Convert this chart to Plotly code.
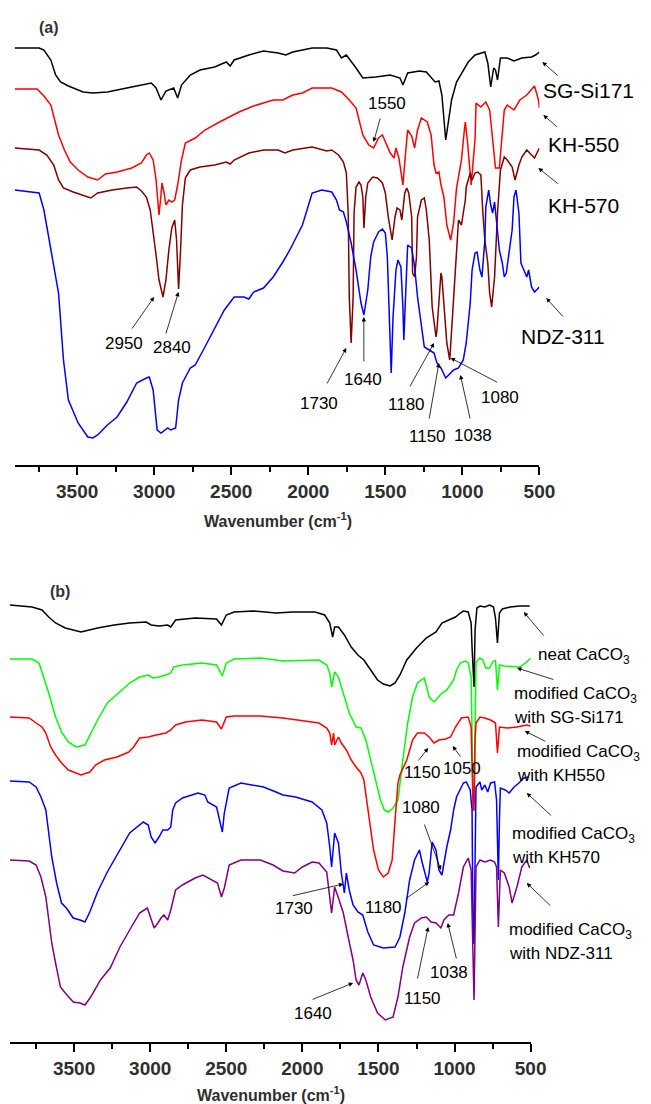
import plotly.graph_objects as go

W, H = 651, 1104
FONT = "Liberation Sans, Arial, sans-serif"

# ---------------- Panel (a): neat coupling agents (wavenumber cm-1, transmittance a.u. with offsets)
A_SGSI171_WN = [3906,3747,3716,3671,3640,3608,3557,3462,3399,3304,3178,3083,3019,2988,2956,2924,2874,2848,2823,2766,
                2703,2608,2532,2507,2481,2386,2291,2196,2146,2101,1975,1880,1817,1785,1753,1690,1646,1563,1468,1405,
                1386,1355,1279,1234,1203,1177,1152,1133,1108,1089,1070,1038,1006,962,918,880,854,835,816,797,
                785,772,753,709,665,614,551,525,500]
A_SGSI171_T = [417,417,415,405,390,383,379,373,372,373,377,380,382,377,365,374,377,367,380,390,
               395,398,403,399,405,410,414,412,410,413,417,417,415,407,410,397,387,388,390,387,
               380,392,394,393,387,383,384,370,325,345,365,383,392,403,410,412,413,402,378,397,
               395,385,407,407,404,407,408,410,413]

A_KH550_WN = [3906,3760,3716,3671,3646,3621,3583,3545,3494,3431,3367,3317,3241,3146,3083,3051,3032,3007,2988,2975,
              2969,2956,2950,2937,2924,2905,2886,2867,2848,2823,2798,2734,2671,2576,2513,2450,2355,2228,2165,2101,
              2038,1975,1848,1785,1734,1690,1646,1608,1576,1544,1519,1494,1468,1443,1431,1412,1399,1386,1367,1355,
              1329,1310,1291,1266,1228,1203,1184,1171,1152,1139,1120,1101,1076,1057,1038,1006,987,981,968,943,
              918,911,880,848,823,804,785,760,728,709,665,627,582,532,506,500]
A_KH550_T = [376,376,369,360,345,330,315,303,295,288,285,291,293,297,302,310,312,305,285,260,
             250,270,282,273,260,265,263,265,280,305,322,327,335,343,348,353,359,365,365,370,
             372,377,377,373,365,357,330,320,317,327,330,322,312,307,317,307,295,280,315,335,
             329,317,335,347,343,330,300,292,293,280,268,240,225,242,277,305,335,343,325,280,
             325,362,358,363,355,322,297,297,355,360,355,365,370,379,365,357]

A_KH570_WN = [3906,3747,3697,3652,3621,3589,3526,3443,3412,3367,3273,3178,3114,3083,3051,3026,3007,2988,2969,2943,
              2924,2905,2886,2867,2855,2842,2829,2817,2798,2766,2703,2608,2532,2507,2481,2386,2291,2196,2152,2101,
              1975,1880,1848,1804,1772,1753,1741,1734,1722,1709,1703,1690,1671,1658,1646,1639,1627,1614,1582,1551,
              1519,1500,1481,1456,1437,1424,1405,1393,1374,1361,1348,1329,1323,1310,1298,1291,1266,1247,1234,1215,
              1196,1171,1165,1139,1133,1120,1101,1082,1070,1044,1025,1006,994,981,975,949,937,918,899,880,
              867,854,835,823,810,791,772,753,728,709,677,658,633,614,582,551,532,500]
A_KH570_T = [317,315,310,300,285,277,273,269,267,272,275,277,278,274,268,255,235,210,185,168,
             185,215,237,245,225,176,215,260,287,295,298,300,303,301,305,312,315,315,312,315,
             318,314,315,310,303,292,252,168,122,168,252,278,283,280,268,237,268,282,288,287,
             282,272,248,225,248,257,255,245,272,277,272,248,192,188,208,248,265,267,255,225,
             158,128,135,192,188,158,122,105,135,195,245,240,252,265,278,292,285,292,293,290,
             252,225,202,172,158,188,252,295,308,305,298,285,300,308,315,310,307,317]

A_NDZ311_WN = [3906,3747,3716,3671,3621,3589,3557,3494,3431,3399,3367,3304,3241,3178,3114,3051,3032,3007,2981,2956,
               2912,2893,2861,2842,2817,2766,2734,2671,2545,2481,2418,2386,2355,2291,2228,2165,2120,2038,1975,1912,
               1848,1817,1798,1772,1753,1722,1690,1658,1639,1614,1595,1576,1544,1519,1500,1487,1475,1462,1450,1431,
               1418,1399,1386,1380,1367,1355,1329,1310,1291,1266,1247,1215,1184,1165,1139,1108,1089,1057,1025,994,
               975,949,937,918,905,886,873,854,848,829,816,804,791,779,760,741,728,715,696,677,
               665,652,633,620,601,582,570,551,532,500]
A_NDZ311_T = [275,272,255,215,172,105,65,42,28,27,30,40,48,63,82,87,88,75,35,32,
              37,35,37,65,82,97,100,118,155,168,168,166,173,177,188,203,215,240,272,275,
              273,265,255,253,243,222,195,162,150,175,208,223,233,236,232,208,148,92,148,195,
              205,198,158,125,175,220,217,198,168,138,118,115,112,102,97,87,90,95,97,105,
              122,162,195,212,213,195,188,225,258,275,260,252,263,242,215,202,188,192,215,235,
              268,275,252,202,195,188,195,178,173,178]

# ---------------- Panel (b): CaCO3 samples
B_NEAT_WN = [3923,3776,3711,3667,3622,3558,3455,3346,3237,3135,3026,2994,2942,2885,2865,2833,2705,2564,2532,2500,
             2449,2321,2173,2064,1917,1853,1820,1801,1788,1763,1724,1679,1635,1596,1551,1506,1468,1423,1391,1359,
             1314,1250,1186,1122,1083,1038,994,962,942,910,891,885,872,865,853,833,801,769,744,731,
             718,705,686,635,571,506]
B_NEAT_T = [437,435,432,425,419,414,410,414,417,419,420,417,416,417,415,422,424,423,417,427,
            430,431,429,430,430,427,419,405,415,415,407,395,387,382,372,362,358,356,359,367,
            382,394,404,410,419,422,425,429,431,430,419,395,355,412,434,436,435,437,435,424,
            399,429,433,435,436,436]

B_SGSI171_WN = [3923,3776,3731,3711,3667,3622,3583,3538,3487,3429,3391,3346,3282,3199,3135,3070,3013,2981,2942,2897,
                2865,2846,2788,2660,2564,2526,2500,2449,2276,2128,1955,1891,1840,1820,1808,1788,1763,1731,1692,1647,
                1615,1583,1551,1506,1487,1462,1436,1404,1372,1340,1308,1276,1244,1199,1167,1135,1103,1083,1051,1006,
                987,962,929,910,891,878,872,865,859,833,814,795,769,750,731,718,705,673,609,571,
                526,500]
B_SGSI171_T = [383,383,379,370,349,325,310,300,295,297,309,322,339,350,359,365,367,364,365,367,
               369,375,377,379,377,366,379,383,384,381,382,382,377,369,355,370,365,349,329,315,
               314,302,282,255,242,232,230,234,242,282,319,345,359,364,345,340,345,349,352,362,
               372,379,381,379,365,242,237,322,380,384,382,374,374,380,382,352,377,376,375,375,
               380,384]

B_KH550_WN = [3923,3795,3750,3711,3686,3654,3622,3583,3538,3494,3455,3397,3359,3301,3218,3141,3109,3070,3013,2961,
              2897,2865,2833,2769,2660,2564,2532,2500,2449,2276,2128,1891,1840,1820,1808,1795,1788,1763,1744,1711,
              1679,1647,1615,1596,1564,1532,1500,1468,1436,1410,1391,1372,1359,1314,1276,1244,1199,1167,1135,1103,
              1058,1026,994,955,910,891,878,872,865,859,833,801,763,731,718,705,654,590,526,500]
B_KH550_T = [325,324,319,315,309,295,287,279,272,269,267,270,277,282,285,290,295,304,305,307,
             309,312,317,320,322,320,313,325,326,326,324,319,314,309,297,309,297,305,299,292,
             282,275,269,262,229,192,172,165,169,182,222,259,267,282,302,309,309,305,299,302,
             303,305,315,324,325,315,232,232,302,319,325,324,322,319,289,315,314,315,317,316]

B_KH570_WN = [3923,3795,3750,3718,3686,3647,3615,3583,3551,3506,3461,3429,3397,3346,3282,3218,3135,3045,3013,2994,
              2968,2942,2917,2885,2865,2852,2833,2788,2686,2641,2622,2564,2538,2526,2513,2481,2404,2256,2173,2128,
              2045,1936,1872,1840,1820,1808,1788,1763,1744,1724,1711,1692,1667,1635,1603,1570,1532,1468,1391,1359,
              1327,1295,1263,1231,1212,1186,1179,1167,1147,1122,1103,1083,1070,1051,1026,1006,987,962,942,923,
              897,885,878,872,865,859,833,821,801,782,763,737,724,712,705,699,667,641,609,577,
              545,513]
B_KH570_T = [261,260,255,245,232,185,159,139,134,124,122,120,130,150,170,187,209,220,217,205,
             199,205,212,212,215,232,239,244,249,247,240,235,219,210,229,254,259,255,250,247,
             245,240,232,219,195,175,209,199,169,149,169,152,137,130,127,110,97,94,95,105,
             129,162,182,192,179,165,160,169,200,192,172,167,179,195,212,232,245,252,259,260,
             252,232,99,99,222,255,260,252,257,250,259,260,242,162,222,254,252,249,255,259,
             264,265]

B_NDZ311_WN = [3923,3795,3750,3718,3686,3667,3647,3622,3590,3558,3506,3461,3429,3391,3327,3263,3199,3135,3070,3019,
               3000,2974,2949,2929,2910,2885,2865,2833,2788,2705,2654,2596,2558,2532,2513,2481,2404,2276,2192,2128,
               2051,2000,1936,1891,1840,1808,1788,1763,1731,1699,1667,1647,1628,1603,1583,1551,1506,1455,1404,1372,
               1340,1295,1263,1218,1186,1154,1122,1090,1070,1038,1006,974,942,910,891,878,872,865,859,833,
               801,763,737,724,712,699,673,641,622,590,558,526,506]
B_NDZ311_T = [182,181,177,165,145,125,99,79,55,49,40,39,37,45,62,74,95,112,129,134,
              125,114,119,124,127,122,132,152,157,164,167,162,159,145,154,177,182,182,177,171,
              169,175,180,179,170,129,155,144,129,105,82,62,57,69,62,45,29,22,25,45,
              75,105,119,124,125,120,119,114,122,127,127,149,175,184,172,82,42,112,175,182,
              180,182,180,175,115,172,169,155,139,155,175,182,174]

MAJOR_TICKS = [3500, 3000, 2500, 2000, 1500, 1000, 500]
MINOR_TICKS = [3750, 3250, 2750, 2250, 1750, 1250, 750]

fig = go.Figure()

series_a = [
    ("SG-Si171", A_SGSI171_WN, A_SGSI171_T, "#000000"),
    ("KH-550", A_KH550_WN, A_KH550_T, "#ff0000"),
    ("KH-570", A_KH570_WN, A_KH570_T, "#800000"),
    ("NDZ-311", A_NDZ311_WN, A_NDZ311_T, "#0000ff"),
]
for name, wn, t, c in series_a:
    fig.add_trace(go.Scatter(x=wn, y=t, mode="lines", name=name, xaxis="x", yaxis="y",
                             line=dict(color=c, width=1.5), showlegend=False))

series_b = [
    ("neat CaCO3", B_NEAT_WN, B_NEAT_T, "#000000"),
    ("SG-Si171", B_SGSI171_WN, B_SGSI171_T, "#00ff00"),
    ("KH550", B_KH550_WN, B_KH550_T, "#ff0000"),
    ("KH570", B_KH570_WN, B_KH570_T, "#0000ff"),
    ("NDZ-311", B_NDZ311_WN, B_NDZ311_T, "#800080"),
]
for name, wn, t, c in series_b:
    fig.add_trace(go.Scatter(x=wn, y=t, mode="lines", name=name, xaxis="x2", yaxis="y2",
                             line=dict(color=c, width=1.5), showlegend=False))


def xaxis_cfg(domain, rng, anchor):
    return dict(
        domain=domain, range=rng, anchor=anchor,
        showline=True, linecolor="#000000", linewidth=1.5,
        ticks="outside", ticklen=8, tickwidth=1.5, tickcolor="#000000",
        tickvals=MAJOR_TICKS, ticktext=[str(v) for v in MAJOR_TICKS],
        tickfont=dict(family=FONT, size=19, color="#2e2e2e", weight="bold"),
        showgrid=False, zeroline=False,
        minor=dict(tickvals=MINOR_TICKS, ticks="outside", ticklen=5, tickwidth=1.5,
                   tickcolor="#000000", showgrid=False),
    )


def yaxis_cfg(domain, rng):
    return dict(domain=domain, range=rng, visible=False, showgrid=False, zeroline=False)


fig.update_layout(
    width=W, height=H, autosize=False,
    margin=dict(l=0, r=0, t=0, b=0),
    paper_bgcolor="white", plot_bgcolor="white",
    showlegend=False,
    xaxis=xaxis_cfg([15 / W, 553 / W], [3906, 500], "y"),
    yaxis=yaxis_cfg([1 - 465 / H, 1 - 5 / H], [0, 460]),
    xaxis2=xaxis_cfg([10 / W, 544 / W], [3923, 500], "y2"),
    yaxis2=yaxis_cfg([1 - 1042 / H, 1 - 570 / H], [0, 472]),
)

ann = []


def text(t, px, py, size=17, xanchor="center", bold=False, color="#000000"):
    ann.append(dict(text=t, x=px / W, y=1 - py / H, xref="paper", yref="paper",
                    xanchor=xanchor, yanchor="middle", showarrow=False,
                    font=dict(family=FONT, size=size, color=color,
                              weight="bold" if bold else "normal")))


def arrow(tail, head):
    ann.append(dict(text="", x=head[0] / W, y=1 - head[1] / H, xref="paper", yref="paper",
                    ax=tail[0] - head[0], ay=tail[1] - head[1], axref="pixel", ayref="pixel",
                    showarrow=True, arrowhead=2, arrowsize=1.1, arrowwidth=0.8,
                    arrowcolor="#000000"))


# panel (a)
text("(a)", 50, 27, size=16, bold=True, color="#333333")
text("SG-Si171", 555, 90, size=21, xanchor="left")
text("KH-550", 560, 145, size=21, xanchor="left")
text("KH-570", 560, 205, size=21, xanchor="left")
text("NDZ-311", 532, 337, size=21, xanchor="left")
arrow((573, 77), (556, 62))
arrow((572, 128), (557, 115))
arrow((573, 185), (552, 168))
arrow((578, 318), (560, 298))
for lab, pos, tail, head in [
    ("1550", (397, 104), (390, 117), (383, 142)),
    ("2950", (127, 343), (135, 330), (158, 297)),
    ("2840", (176, 347), (170, 335), (183, 292)),
    ("1730", (327, 403), (335, 385), (355, 348)),
    ("1640", (372, 379), (373, 363), (373, 317)),
    ("1180", (417, 404), (420, 388), (445, 343)),
    ("1150", (438, 437), (440, 420), (450, 363)),
    ("1038", (485, 435), (482, 420), (472, 375)),
    ("1080", (513, 397), (510, 383), (462, 358)),
]:
    text(lab, pos[0], pos[1], size=17)
    arrow(tail, head)
text("Wavenumber (cm<sup>-1</sup>)", 285, 520, size=16, bold=True, color="#2e2e2e")

# panel (b)
text("(b)", 61, 591, size=16, bold=True, color="#333333")
text("neat CaCO<sub>3</sub>", 550, 656, size=17, xanchor="left")
text("modified CaCO<sub>3</sub>", 525, 695, size=17, xanchor="left")
text("with SG-Si171", 525, 717, size=17, xanchor="left")
text("modified CaCO<sub>3</sub>", 528, 753, size=17, xanchor="left")
text("with KH550", 528, 775, size=17, xanchor="left")
text("modified CaCO<sub>3</sub>", 523, 835, size=17, xanchor="left")
text("with KH570", 523, 857, size=17, xanchor="left")
text("modified CaCO<sub>3</sub>", 520, 931, size=17, xanchor="left")
text("with NDZ-311", 520, 953, size=17, xanchor="left")
arrow((558, 637), (537, 612))
arrow((568, 680), (530, 668))
arrow((560, 742), (538, 731))
arrow((566, 817), (540, 793))
arrow((565, 907), (540, 883))
for lab, pos, tail, head in [
    ("1150", (433, 772), (428, 762), (439, 748)),
    ("1050", (474, 768), (473, 758), (464, 746)),
    ("1080", (432, 807), (435, 823), (452, 870)),
    ("1180", (393, 907), (415, 900), (440, 882)),
    ("1730", (301, 908), (300, 896), (352, 884)),
    ("1640", (321, 1013), (320, 1000), (362, 983)),
    ("1150", (433, 998), (428, 980), (439, 927)),
    ("1038", (460, 972), (468, 960), (459, 923)),
]:
    text(lab, pos[0], pos[1], size=17)
    arrow(tail, head)
text("Wavenumber (cm<sup>-1</sup>)", 278, 1094, size=16, bold=True, color="#2e2e2e")

fig.update_layout(annotations=ann)
fig.write_html("out.html",
               config={"displayModeBar": False, "responsive": False},
               post_script="document.body.style.margin='0';document.body.style.overflow='hidden';")
